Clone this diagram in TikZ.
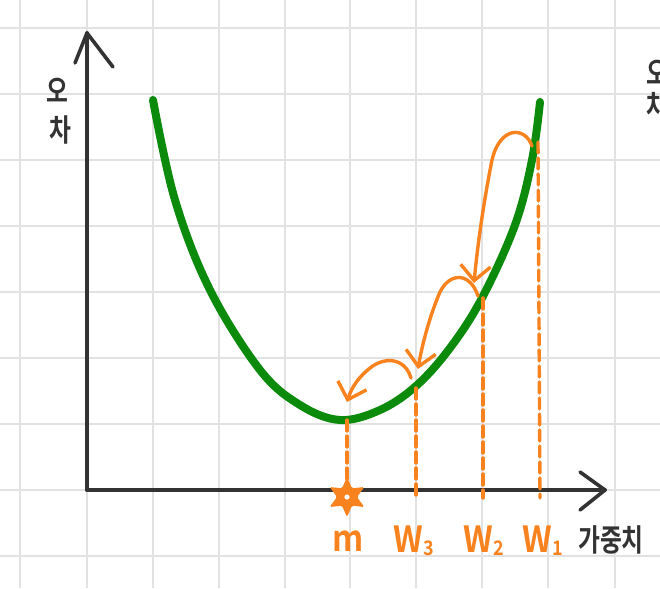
\documentclass[tikz,border=0pt]{standalone}
\usepackage{fontspec}
\setmainfont{Noto Sans CJK KR}
\newfontfamily\kr{Noto Sans CJK KR Bold}
\usetikzlibrary{arrows.meta,shapes.geometric}
\definecolor{gridc}{HTML}{E2E2E2}
\definecolor{axisc}{HTML}{333333}
\definecolor{greenc}{HTML}{0B8A0B}
\definecolor{orangec}{HTML}{F7821E}
\tikzset{
  gridline/.style={gridc, line width=2.4pt},
  axisline/.style={axisc, line width=3.6pt, line cap=round, line join=round},
  curveline/.style={greenc, line width=8pt, line cap=round},
  guide/.style={orangec, line width=3.4pt, dash pattern=on 11pt off 5pt, line cap=round},
  jump/.style={orangec, line width=3.4pt, line cap=round, -{Straight Barb[length=15pt,width=30pt,line width=3.4pt]}},
  olabel/.style={orangec, font=\kr\fontsize{36}{36}\selectfont, inner sep=0pt, xscale=0.9},
  klabel/.style={axisc, font=\kr\fontsize{28}{28}\selectfont, inner sep=0pt, xscale=0.85, yscale=1.1},
}
\begin{document}
\begin{tikzpicture}[x=1pt,y=-1pt]
\useasboundingbox (0,0) rectangle (660,588);
\clip (0,0) rectangle (660,588);
% grid
\foreach \gx in {20,87,153,219,285,350,416,482,548,615} \draw[gridline] (\gx,0) -- (\gx,588);
\foreach \gy in {28,94,160,226,292,358,424,490,556} \draw[gridline] (0,\gy) -- (660,\gy);
% axes
\coordinate (o) at (87,490);
\coordinate (ytip) at (87,33);
\coordinate (xtip) at (605,490);
\draw[axisline] (o) -- (ytip);
\draw[axisline] (o) -- (xtip);
\draw[axisline] (75,63) -- (ytip) -- (113,67);
\draw[axisline] (580,472) -- (xtip) -- (580,510);
% curve
\draw[curveline] plot[smooth, tension=0.6] coordinates {(153,100) (175,200) (210,290) (260,370) (300,405) (340,420) (380,410) (416,386) (450,348) (482,298) (515,225) (532,160) (540,102)};
% points on curve
\coordinate (m) at (347,420);
\coordinate (w3) at (416,388);
\coordinate (w2) at (483,298);
\coordinate (w1) at (538,142);
\coordinate (mb) at (347,497);
\coordinate (w3b) at (416,498);
\coordinate (w2b) at (483,498);
\coordinate (w1b) at (540,498);
\draw[guide] (m) -- (mb);
\draw[guide] (w3) -- (w3b);
\draw[guide] (w2) -- (w2b);
\draw[guide] (w1) -- (w1b);
% jumps
\coordinate (a1) at (474,283);
\coordinate (a2) at (418,369);
\coordinate (a3) at (347,402);
\draw[jump] (532,146) .. controls (525,126) and (500,126) .. (492,160) .. controls (485,195) and (478,240) .. (a1);
\draw[jump] (478,296) .. controls (470,272) and (450,272) .. (440,292) .. controls (430,315) and (422,345) .. (a2);
\draw[jump] (411,378) .. controls (405,358) and (385,356) .. (370,368) .. controls (360,376) and (352,386) .. (a3);
% star
\node[orangec, fill=orangec, star, star points=6, star point ratio=2.0, minimum size=40pt, inner sep=0pt, rounded corners=1.5pt] (st) at (mb) {};
\fill[white] (mb) circle (2.6pt);
% labels
\node[olabel] (lm) at (348,541) {m};
\node[olabel] (lw3) at (414,541) {W\raisebox{-3pt}{\fontsize{20}{20}\selectfont 3}};
\node[olabel] (lw2) at (484,541) {W\raisebox{-3pt}{\fontsize{20}{20}\selectfont 2}};
\node[olabel] (lw1) at (543,541) {W\raisebox{-3pt}{\fontsize{20}{20}\selectfont 1}};
\node[klabel] (lx) at (611,540) {가중치};
\node[klabel] (ly1) at (57,90) {오};
\node[klabel] (ly2) at (60,130) {차};
\node[klabel] (ry1) at (657,72) {오};
\node[klabel] (ry2) at (657,106) {차};
\end{tikzpicture}
\end{document}
